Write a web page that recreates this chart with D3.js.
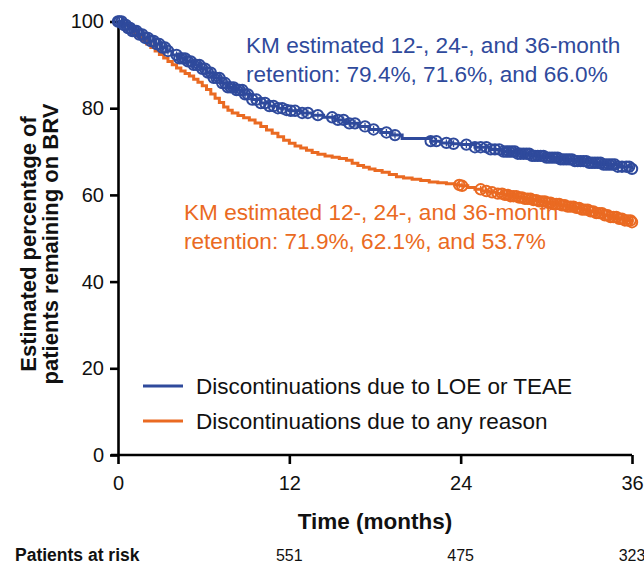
<!DOCTYPE html>
<html>
<head>
<meta charset="utf-8">
<script src="https://cdn.jsdelivr.net/npm/d3@7"></script>
<style>
  html, body { margin: 0; padding: 0; background: #fff; }
  svg text { font-family: "Liberation Sans", Arial, sans-serif; }
</style>
</head>
<body>
<svg id="chart" width="644" height="564"></svg>
<script>
// Kaplan-Meier retention on BRV: step points [months, % remaining]
const loeTeaeSteps = [
  [0, 100], [0.3, 99.2], [0.7, 98.5], [1.0, 97.8], [1.4, 97.0], [1.8, 96.2],
  [2.2, 95.5], [2.6, 94.8], [3.0, 94.0], [3.4, 93.2], [3.8, 92.3], [4.3, 91.5],
  [4.8, 90.8], [5.3, 90.0], [5.8, 89.1], [6.2, 88.2], [6.7, 87.0], [7.2, 85.8],
  [7.7, 84.8], [8.2, 84.2], [8.8, 83.2], [9.4, 82.0], [10.0, 81.2], [10.6, 80.5],
  [11.2, 80.0], [11.8, 79.6], [12.0, 79.4], [12.8, 78.9], [13.6, 78.4], [14.4, 77.9],
  [15.2, 77.3], [16.0, 76.5], [16.8, 75.8], [17.6, 75.1], [18.4, 74.4], [19.2, 73.8],
  [19.9, 73.0], [21.9, 72.4], [22.6, 72.0], [23.4, 71.8], [24.0, 71.6], [25.0, 71.0],
  [26.0, 70.5], [27.0, 70.0], [28.0, 69.5], [29.0, 69.0], [30.0, 68.6], [31.0, 68.2],
  [32.0, 67.8], [33.0, 67.4], [34.0, 67.0], [35.0, 66.5], [36.0, 66.0]
];
const anyReasonSteps = [
  [0, 100], [0.4, 99.2], [0.8, 98.4], [1.1, 97.4], [1.4, 96.5], [1.7, 95.6],
  [2.0, 94.8], [2.3, 94.0], [2.6, 93.2], [2.9, 92.4], [3.2, 91.6], [3.5, 90.8],
  [3.8, 90.0], [4.1, 89.3], [4.4, 88.6], [4.7, 88.0], [5.0, 87.4], [5.3, 86.7],
  [5.6, 86.0], [5.9, 85.2], [6.2, 84.3], [6.5, 83.3], [6.8, 82.3], [7.1, 81.3],
  [7.4, 80.3], [7.7, 79.5], [8.0, 78.9], [8.4, 78.3], [8.8, 77.8], [9.2, 77.3],
  [9.6, 76.6], [10.0, 75.8], [10.4, 75.0], [10.8, 74.2], [11.2, 73.4], [11.6, 72.6],
  [12.0, 71.9], [12.4, 71.3], [12.8, 70.8], [13.2, 70.3], [13.6, 69.8], [14.0, 69.4],
  [14.5, 69.0], [15.0, 68.7], [15.5, 68.4], [16.0, 68.0], [16.4, 67.3], [16.8, 66.8],
  [17.2, 66.4], [17.6, 66.0], [18.0, 65.6], [18.5, 65.2], [19.0, 64.7], [19.5, 64.2],
  [20.0, 63.9], [20.6, 63.6], [21.2, 63.3], [21.8, 63.0], [22.4, 62.8], [23.0, 62.6],
  [23.6, 62.3], [24.0, 62.1], [24.5, 61.7], [25.0, 61.3], [25.5, 60.9], [26.0, 60.6],
  [26.5, 60.3], [27.0, 60.0], [27.5, 59.7], [28.0, 59.4], [28.5, 59.1], [29.0, 58.8],
  [29.5, 58.5], [30.0, 58.2], [30.5, 57.9], [31.0, 57.6], [31.5, 57.3], [32.0, 57.0],
  [32.5, 56.6], [33.0, 56.2], [33.5, 55.8], [34.0, 55.3], [34.5, 54.9], [35.0, 54.5],
  [35.5, 54.1], [36.0, 53.7]
];

// Censored observations (months)
const loeTeaeCensored = [
  0.0, 0.1, 0.25, 0.4, 0.55, 0.7, 0.85, 1.0, 1.15, 1.3, 1.5, 1.7, 1.9, 2.1, 2.3,
  2.5, 2.7, 2.9, 3.1, 3.3, 3.5, 4.1, 4.3, 4.5, 4.7, 4.9, 5.1, 5.3, 5.5, 5.7, 5.9,
  6.1, 6.3, 6.5, 6.7, 6.9, 7.1, 7.3, 7.5, 7.7, 7.9, 8.1, 8.3, 8.5, 8.7, 8.9, 9.1,
  9.4, 9.7, 10.0, 10.3, 10.6, 10.9, 11.2, 11.5, 11.8, 12.1, 12.4, 12.9, 13.3,
  14.0, 15.0, 15.4, 15.8, 16.2, 16.6, 17.3, 17.9, 18.8, 19.4, 21.9, 22.3, 23.0,
  23.5, 24.4, 25.0, 25.4, 25.8, 26.1, 26.4, 26.7, 27.0, 27.2, 27.4, 27.6, 27.8,
  28.0, 28.2, 28.4, 28.6, 28.8, 29.0, 29.2, 29.4, 29.6, 29.8, 30.0, 30.2, 30.4,
  30.6, 30.8, 31.0, 31.2, 31.4, 31.6, 31.8, 32.0, 32.2, 32.4, 32.6, 32.8, 33.0,
  33.2, 33.4, 33.6, 33.8, 34.0, 34.2, 34.4, 34.6, 34.8, 35.0, 35.3, 35.6, 35.8, 36.0
];
const anyReasonCensored = [
  23.9, 24.1, 25.4, 25.8, 26.2, 26.6, 26.9, 27.1, 27.3, 27.5, 27.7, 27.9, 28.1,
  28.3, 28.5, 28.7, 28.9, 29.1, 29.3, 29.5, 29.7, 29.9, 30.1, 30.3, 30.5, 30.7,
  30.9, 31.1, 31.3, 31.5, 31.7, 31.9, 32.1, 32.3, 32.5, 32.7, 32.9, 33.1, 33.3,
  33.5, 33.7, 33.9, 34.1, 34.3, 34.5, 34.7, 34.9, 35.1, 35.3, 35.5, 35.7, 35.9, 36.0
];

const xTicks = [0, 12, 24, 36];
const yTicks = [0, 20, 40, 60, 80, 100];
const atRiskTimes = [12, 24, 36];
const atRiskCounts = [551, 475, 323];

const seriesNames = ["Discontinuations due to LOE or TEAE", "Discontinuations due to any reason"];
const seriesColors = ["#2f4a9c", "#ea6a22"];
const loeNote = ["KM estimated 12-, 24-, and 36-month", "retention: 79.4%, 71.6%, and 66.0%"];
const anyNote = ["KM estimated 12-, 24-, and 36-month", "retention: 71.9%, 62.1%, and 53.7%"];

const svg = d3.select("#chart");
const m = { left: 118, top: 21.5, right: 12, bottom: 109 };
const W = 644 - m.left - m.right;
const H = 564 - m.top - m.bottom;

const x = d3.scaleLinear().domain([0, 36]).range([0, W]);
const y = d3.scaleLinear().domain([0, 100]).range([H, 0]);

const g = svg.append("g").attr("transform", `translate(${m.left},${m.top})`);

// Axes
const yAxis = g.append("g")
  .call(d3.axisLeft(y).tickValues(yTicks).tickSize(8).tickPadding(6).tickSizeOuter(0));
const xAxis = g.append("g").attr("transform", `translate(0,${H})`)
  .call(d3.axisBottom(x).tickValues(xTicks).tickSize(9).tickPadding(12).tickSizeOuter(0));
[xAxis, yAxis].forEach(a => {
  a.select(".domain").attr("stroke", "#000").attr("stroke-width", 2.6);
  a.selectAll(".tick line").attr("stroke", "#000").attr("stroke-width", 2.6);
  a.selectAll(".tick text").attr("fill", "#111").style("font-size", "20px");
});
// extend x axis line to meet the y axis tick at zero
xAxis.select(".domain").attr("d", `M-7,0H${W}`);

// Step curves
const stepLine = d3.line()
  .x(d => x(d[0]))
  .y(d => y(d[1]))
  .curve(d3.curveStepAfter);

function survivalAt(steps, t) {
  let v = steps[0][1];
  for (const s of steps) { if (s[0] <= t) v = s[1]; else break; }
  return v;
}

function drawSeries(steps, censored, color) {
  g.append("path")
    .datum(steps)
    .attr("fill", "none")
    .attr("stroke", color)
    .attr("stroke-width", 3)
    .attr("d", stepLine);
  const marks = g.append("g").selectAll("g")
    .data(censored)
    .join("g")
    .attr("transform", t => `translate(${x(t)},${y(survivalAt(steps, t))})`);
  marks.append("circle")
    .attr("r", 5.2)
    .attr("fill", "none")
    .attr("stroke", color)
    .attr("stroke-width", 2);
  marks.append("line")
    .attr("y1", -3.5).attr("y2", 3.5)
    .attr("stroke", color)
    .attr("stroke-width", 1.3);
}

drawSeries(anyReasonSteps, anyReasonCensored, seriesColors[1]);
drawSeries(loeTeaeSteps, loeTeaeCensored, seriesColors[0]);

// Retention annotations
const noteBlue = svg.append("text").attr("fill", seriesColors[0]).style("font-size", "22.6px");
loeNote.forEach((s, i) => noteBlue.append("tspan").attr("x", 246).attr("y", 53 + i * 29).text(s));
const noteOrange = svg.append("text").attr("fill", seriesColors[1]).style("font-size", "22.6px");
anyNote.forEach((s, i) => noteOrange.append("tspan").attr("x", 184).attr("y", 220 + i * 29).text(s));

// Legend
const legend = svg.append("g");
seriesNames.forEach((name, i) => {
  const ly = 386 + i * 35;
  legend.append("line")
    .attr("x1", 143).attr("x2", 183).attr("y1", ly).attr("y2", ly)
    .attr("stroke", seriesColors[i]).attr("stroke-width", 3);
  legend.append("text")
    .attr("x", 196).attr("y", ly + 8)
    .attr("fill", "#111").style("font-size", "22.5px")
    .text(name);
});

// Axis titles
svg.append("text")
  .attr("x", m.left + W / 2).attr("y", 529)
  .attr("text-anchor", "middle")
  .style("font-size", "22.5px").style("font-weight", "bold").attr("fill", "#111")
  .text("Time (months)");

const yTitle = svg.append("text")
  .attr("transform", `translate(0,244) rotate(-90)`)
  .attr("text-anchor", "middle")
  .style("font-size", "22px").style("font-weight", "bold").attr("fill", "#111");
yTitle.append("tspan").attr("x", 0).attr("y", 36).text("Estimated percentage of");
yTitle.append("tspan").attr("x", 0).attr("y", 58).text("patients remaining on BRV");

// Patients at risk
svg.append("text")
  .attr("x", 15).attr("y", 561)
  .style("font-size", "17.5px").style("font-weight", "bold").attr("fill", "#111")
  .text("Patients at risk");
svg.append("g").selectAll("text")
  .data(atRiskTimes)
  .join("text")
  .attr("x", t => m.left + x(t))
  .attr("y", 561)
  .attr("text-anchor", "middle")
  .style("font-size", "16px").attr("fill", "#111")
  .text((t, i) => atRiskCounts[i]);
</script>
</body>
</html>
